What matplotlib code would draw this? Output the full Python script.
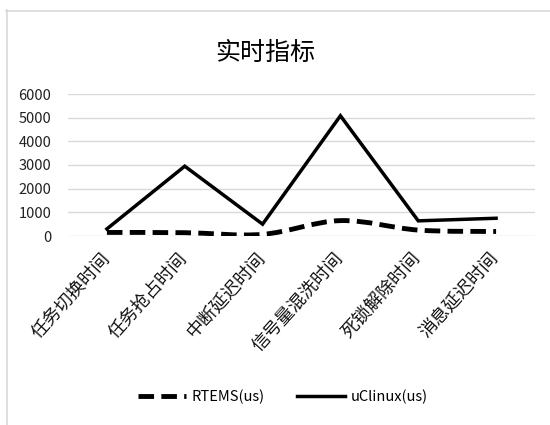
import matplotlib
matplotlib.use("Agg")
import matplotlib.pyplot as plt
from matplotlib.path import Path
from matplotlib.patches import PathPatch
from matplotlib.lines import Line2D
import numpy as np

plt.rcParams['font.family'] = ['Noto Sans CJK SC', 'DejaVu Sans']

categories = ["任务切换时间", "任务抢占时间", "中断延迟时间", "信号量混洗时间", "死锁解除时间", "消息延迟时间"]
rtems = [150, 140, 70, 650, 250, 190]
uclinux = [300, 2950, 500, 5080, 640, 750]
yticks = [0, 1000, 2000, 3000, 4000, 5000, 6000]
title = "实时指标"

fig = plt.figure(figsize=(5.5, 4.25), dpi=100)
ax = fig.add_axes([68/550, 1-236/425, (535-68)/550, (236-94)/425])

x = np.arange(len(categories))

# smoothed RTEMS line (Bezier through data points, Catmull-Rom style control points)
def smooth_path(xs, ys, t=1/6):
    xs = np.asarray(xs, float); ys = np.asarray(ys, float)
    verts = [(xs[0], ys[0])]; codes = [Path.MOVETO]
    n = len(xs)
    for i in range(n-1):
        p0 = (xs[max(i-1, 0)], ys[max(i-1, 0)])
        p1 = (xs[i], ys[i]); p2 = (xs[i+1], ys[i+1])
        p3 = (xs[min(i+2, n-1)], ys[min(i+2, n-1)])
        c1 = (p1[0] + (p2[0]-p0[0])*t, p1[1] + (p2[1]-p0[1])*t)
        c2 = (p2[0] - (p3[0]-p1[0])*t, p2[1] - (p3[1]-p1[1])*t)
        verts += [c1, c2, p2]; codes += [Path.CURVE4]*3
    return Path(verts, codes)

patch = PathPatch(smooth_path(x, rtems), facecolor='none', edgecolor='black',
                  lw=3.5, linestyle=(0, (3.2, 1.5)), capstyle='butt', zorder=3)
ax.add_patch(patch)
ax.plot(x, uclinux, color='black', lw=2.5, zorder=3, solid_joinstyle='miter')

ax.set_xlim(-0.5, len(categories)-0.5)
ax.set_ylim(0, 6000)
ax.set_yticks(yticks)
ax.set_yticklabels([str(v) for v in yticks], fontsize=10.5, color='#222222')
ax.set_xticks(x)
ax.set_xticklabels(categories, rotation=48, ha='right', va='center',
                   rotation_mode='anchor', fontsize=13, color='#111111')
ax.tick_params(axis='both', length=0)
ax.tick_params(axis='x', pad=14)
ax.tick_params(axis='y', pad=12)
ax.grid(axis='y', color='#d9d9d9', lw=1)
ax.set_axisbelow(True)
for s in ax.spines.values():
    s.set_visible(False)

fig.text(265/550, 1-53/425, title, ha='center', va='center', fontsize=18)

# outer chart frame
fig.add_artist(Line2D([6.5/550, 6.5/550], [0, 1-10/425], transform=fig.transFigure, color='#d9d9d9', lw=1.2))
fig.add_artist(Line2D([6/550, 1], [1-10.5/425, 1-10.5/425], transform=fig.transFigure, color='#d9d9d9', lw=1.2))

h1 = Line2D([], [], color='black', lw=3.5, linestyle=(0, (3.2, 1.5)))
h2 = Line2D([], [], color='black', lw=2.5)
fig.legend([h1, h2], ["RTEMS(us)", "uClinux(us)"], loc='center', bbox_to_anchor=(283/550, 1-397/425),
           ncol=2, frameon=False, fontsize=10.5, handlelength=3.3, columnspacing=2.2, handletextpad=0.4)

fig.savefig("out.png", dpi=100, facecolor='white')
